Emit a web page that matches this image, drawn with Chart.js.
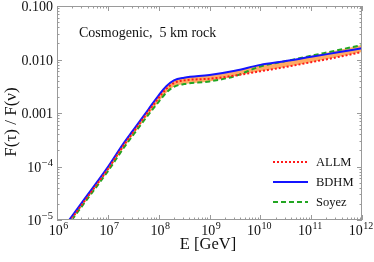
<!DOCTYPE html>
<html><head><meta charset="utf-8">
<script src="https://cdn.jsdelivr.net/npm/chart.js@4.4.1/dist/chart.umd.min.js"></script>
<style>html,body{margin:0;padding:0;background:#fff;}#wrap{width:374px;height:262px;}</style>
</head><body><div id="wrap"><canvas id="c" width="374" height="262"></canvas></div>
<script>
// Energies E [GeV]
const energies = [1.585e6, 3.162e6, 1e7, 1.995e7, 3.162e7, 6.31e7, 1e8, 1.413e8, 1.995e8, 3.162e8, 1e9, 3.162e9, 1e10, 3.162e10, 1e11, 3.162e11, 1e12];
// F(tau)/F(nu) for each structure-function model
const allm  = [8.13e-6, 2.00e-5, 8.91e-5, 2.40e-4, 4.37e-4, 1.07e-3, 1.91e-3, 2.82e-3, 3.63e-3, 4.07e-3, 4.37e-3, 5.01e-3, 6.03e-3, 7.24e-3, 8.91e-3, 1.096e-2, 1.38e-2];
const bdhm  = [8.91e-6, 2.19e-5, 9.77e-5, 2.63e-4, 4.79e-4, 1.175e-3, 2.14e-3, 3.16e-3, 4.07e-3, 4.57e-3, 5.13e-3, 6.17e-3, 7.94e-3, 9.33e-3, 1.122e-2, 1.349e-2, 1.622e-2];
const soyez = [7.59e-6, 1.86e-5, 8.13e-5, 2.14e-4, 3.89e-4, 9.33e-4, 1.62e-3, 2.40e-3, 3.09e-3, 3.47e-3, 3.89e-3, 4.90e-3, 7.41e-3, 9.33e-3, 1.175e-2, 1.479e-2, 1.862e-2];
const seriesNames = ['ALLM', 'BDHM', 'Soyez'];
// tick values and labels
const xTicks = [1e6, 1e7, 1e8, 1e9, 1e10, 1e11, 1e12];
const xTickLabels = [['10','6'],['10','7'],['10','8'],['10','9'],['10','10'],['10','11'],['10','12']];
const yTicks = [1e-5, 1e-4, 1e-3, 1e-2, 1e-1];
const yTickLabels = [['10','\u22125'],['10','\u22124'],['0.001',''],['0.010',''],['0.100','']];
const xTitle = 'E [GeV]';
const yTitle = 'F(\u03c4) / F(\u03bd)';
const note = 'Cosmogenic,  5 km rock';

const pts = arr => energies.map((e, i) => ({x: e, y: arr[i]}));
const SERIF = '"Liberation Serif", "DejaVu Serif", serif';
const ORANGE = 'rgba(255,170,100,1)';

function drawSup(ctx, base, exp, x, y, align, fb, fe, rise) {
  ctx.font = fb + 'px ' + SERIF;
  const wb = ctx.measureText(base).width;
  ctx.font = fe + 'px ' + SERIF;
  const we = exp ? ctx.measureText(exp).width + 0.5 : 0;
  let x0;
  if (align === 'right') x0 = x - wb - we;
  else if (align === 'center') x0 = x - (wb + we) / 2;
  else x0 = x;
  ctx.textAlign = 'left';
  ctx.font = fb + 'px ' + SERIF;
  ctx.fillText(base, x0, y);
  if (exp) {
    ctx.font = fe + 'px ' + SERIF;
    ctx.fillText(exp, x0 + wb + 0.5, y - rise);
  }
}

const framePlugin = {
  id: 'frame',
  afterDraw(chart) {
    const ctx = chart.ctx, a = chart.chartArea;
    const xs = chart.scales.x, ys = chart.scales.y;
    ctx.save();
    ctx.strokeStyle = '#9a9a9a';
    ctx.lineWidth = 1;
    ctx.strokeRect(a.left + 0.5, a.top + 0.5, a.right - a.left - 1, a.bottom - a.top - 1);
    ctx.beginPath();
    for (let d = 6; d <= 12; d++) {
      for (let m = 1; m <= 9; m++) {
        if (d === 12 && m > 1) break;
        const v = m * Math.pow(10, d);
        const px = Math.round(xs.getPixelForValue(v)) + 0.5;
        const len = m === 1 ? 5 : 2.5;
        ctx.moveTo(px, a.bottom); ctx.lineTo(px, a.bottom - len);
        ctx.moveTo(px, a.top); ctx.lineTo(px, a.top + len);
      }
    }
    for (let d = -5; d <= -1; d++) {
      for (let m = 1; m <= 9; m++) {
        if (d === -1 && m > 1) break;
        const v = m * Math.pow(10, d);
        const py = Math.round(ys.getPixelForValue(v)) + 0.5;
        const len = m === 1 ? 5 : 2.5;
        ctx.moveTo(a.left, py); ctx.lineTo(a.left + len, py);
        ctx.moveTo(a.right, py); ctx.lineTo(a.right - len, py);
      }
    }
    ctx.stroke();
    ctx.fillStyle = '#111';
    ctx.textBaseline = 'alphabetic';
    xTicks.forEach((v, i) => {
      const px = xs.getPixelForValue(v);
      const shift = xTickLabels[i][1].length === 1 ? 1.5 : -1;
      drawSup(ctx, xTickLabels[i][0], xTickLabels[i][1], px + shift, a.bottom + 15, 'center', 14, 10, 6);
    });
    yTicks.forEach((v, i) => {
      const py = ys.getPixelForValue(v);
      drawSup(ctx, yTickLabels[i][0], yTickLabels[i][1], a.left - 4, py + 5, 'right', 14, 10.5, 6);
    });
    ctx.font = '16.5px ' + SERIF;
    ctx.textAlign = 'center';
    ctx.fillText(xTitle, 208, 249);
    ctx.save();
    ctx.translate(16, 122);
    ctx.rotate(-Math.PI / 2);
    ctx.font = '17px ' + SERIF;
    ctx.fillText(yTitle, 0, 0);
    ctx.restore();
    ctx.font = '14px ' + SERIF;
    ctx.textAlign = 'left';
    ctx.fillText(note, 79, 37);
    const ds = chart.data.datasets;
    const ly = [162, 182, 202];
    ds.forEach((d, i) => {
      ctx.save();
      ctx.strokeStyle = d.borderColor;
      ctx.lineWidth = d.borderWidth;
      ctx.setLineDash(d.borderDash || []);
      ctx.beginPath();
      ctx.moveTo(273, ly[i]); ctx.lineTo(308, ly[i]);
      ctx.stroke();
      ctx.restore();
      ctx.font = '12.5px ' + SERIF;
      ctx.fillStyle = '#111';
      ctx.textAlign = 'left';
      ctx.textBaseline = 'middle';
      ctx.fillText(d.label, 316, ly[i] + 1);
    });
    ctx.restore();
  }
};

new Chart(document.getElementById('c'), {
  type: 'line',
  data: {
    datasets: [
      { label: seriesNames[0], data: pts(allm), borderColor: '#ff1a1a', borderWidth: 2, borderDash: [2, 2],
        fill: { target: 1 }, backgroundColor: ORANGE, pointRadius: 0, cubicInterpolationMode: 'monotone', clip: 0 },
      { label: seriesNames[1], data: pts(bdhm), borderColor: '#1414ff', borderWidth: 2,
        fill: false, pointRadius: 0, cubicInterpolationMode: 'monotone', clip: 0 },
      { label: seriesNames[2], data: pts(soyez), borderColor: '#22a622', borderWidth: 2, borderDash: [5, 3],
        fill: { target: 1 }, backgroundColor: ORANGE, pointRadius: 0, cubicInterpolationMode: 'monotone', clip: 0 }
    ]
  },
  options: {
    responsive: false,
    animation: false,
    layout: { padding: { left: 57, right: 12, top: 6, bottom: 42 } },
    scales: {
      x: { type: 'logarithmic', min: 1e6, max: 1e12, display: false },
      y: { type: 'logarithmic', min: 1e-5, max: 0.1, display: false }
    },
    plugins: {
      legend: { display: false },
      tooltip: { enabled: false },
      filler: { drawTime: 'beforeDatasetsDraw' }
    }
  },
  plugins: [framePlugin]
});
</script>
</body></html>
